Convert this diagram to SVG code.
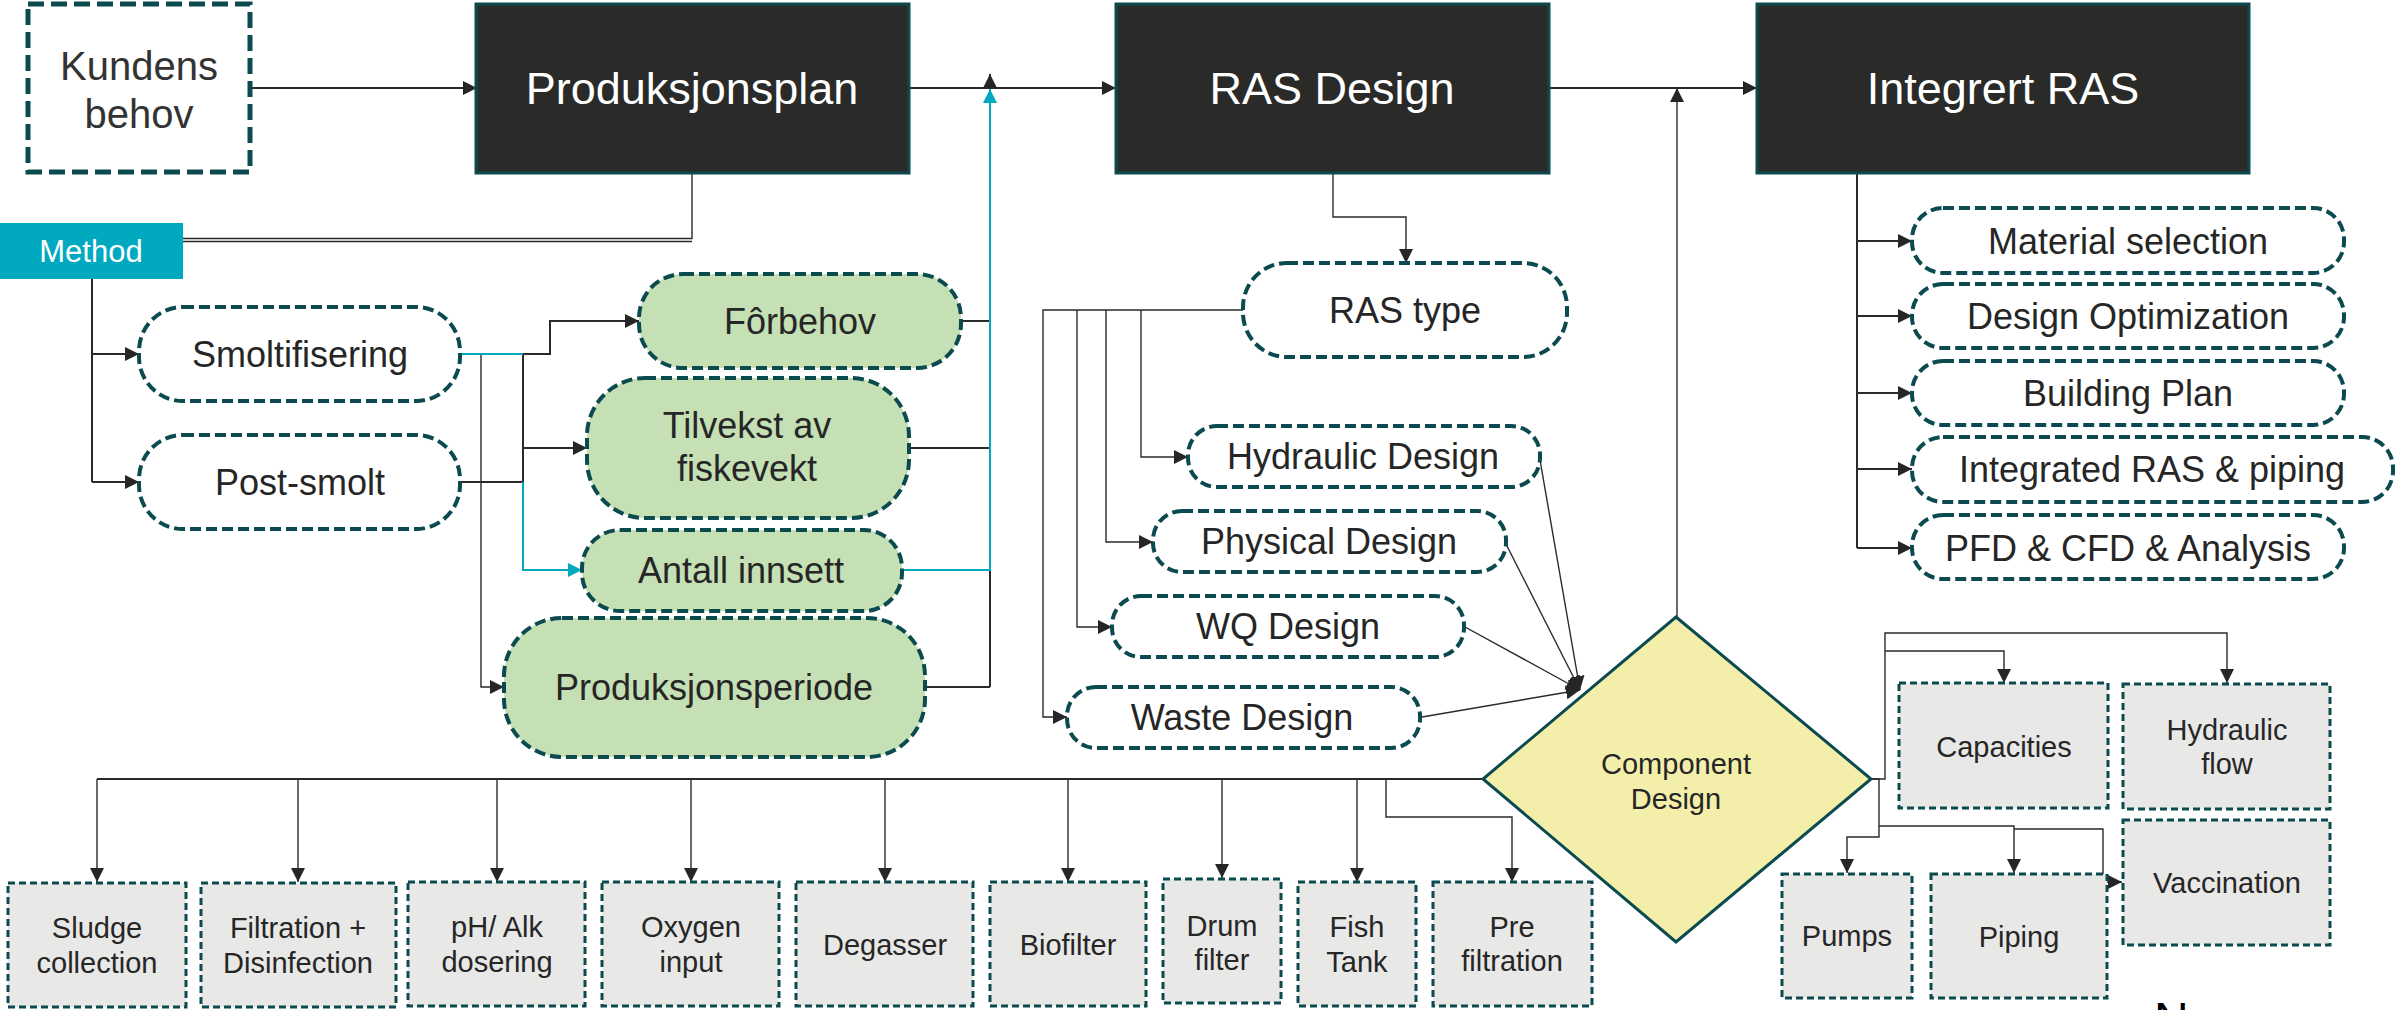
<svg xmlns="http://www.w3.org/2000/svg" width="2399" height="1010" viewBox="0 0 2399 1010">
  <defs>
    <marker id="arr" markerUnits="userSpaceOnUse" markerWidth="16" markerHeight="16" refX="14" refY="7" orient="auto">
      <path d="M0,0 L14,7 L0,14 z" fill="#262626"/>
    </marker>
    <marker id="arrT" markerUnits="userSpaceOnUse" markerWidth="16" markerHeight="16" refX="14" refY="7" orient="auto">
      <path d="M0,0 L14,7 L0,14 z" fill="#00a9bf"/>
    </marker>
    <style>
      text { font-family: "Liberation Sans", Arial, sans-serif; text-anchor: middle; fill: #262626; }
      .main rect { fill: #2a2a29; stroke: #0d4a50; stroke-width: 3; }
      .main text { fill: #ffffff; font-size: 45px; }
      .pill { fill: #ffffff; stroke: #0b4a4f; stroke-width: 4; stroke-dasharray: 11 5; }
      .green { fill: #c5e0b4; stroke: #0b4a4f; stroke-width: 4; stroke-dasharray: 11 5; }
      .comp { fill: #e8e8e6; stroke: #0b4a4f; stroke-width: 3; stroke-dasharray: 7 4; }
      .lbl { font-size: 36px; }
      .sm { font-size: 29px; }
      .con { fill: none; stroke: #2a2a2a; stroke-width: 2; }
      .thin { fill: none; stroke: #2a2a2a; stroke-width: 1.4; }
      .teal { fill: none; stroke: #00a9bf; stroke-width: 2; }
      .white { fill: #ffffff; }
      .soft { fill: #333333; }
    </style>
  </defs>

  <!-- connectors -->
  <g id="connectors">
    <line class="con" x1="250" y1="88" x2="477" y2="88" marker-end="url(#arr)"/>
    <line class="con" x1="909" y1="88" x2="1116" y2="88" marker-end="url(#arr)"/>
    <line class="con" x1="1549" y1="88" x2="1757" y2="88" marker-end="url(#arr)"/>
    <!-- plan to method -->
    <path class="thin" d="M692,173 V238.5 H183"/>
    <path class="thin" d="M692,241.5 H183"/>
    <!-- method branches -->
    <path class="con" d="M92,279 V482"/>
    <path class="con" d="M92,354 H139" marker-end="url(#arr)"/>
    <path class="con" d="M92,482 H139" marker-end="url(#arr)"/>
    <!-- production plan inputs -->
    <path class="con" d="M460,354 H550 V321 H639" marker-end="url(#arr)"/>
    <path class="thin" d="M481,354 V687 H504" marker-end="url(#arr)"/>
    <path class="con" d="M460,482 H523 V354"/>
    <path class="con" d="M523,448 H587" marker-end="url(#arr)"/>
    <path class="teal" d="M460,354 H523"/>
    <path class="teal" d="M523,482 V570 H582" stroke-width="1.6" marker-end="url(#arrT)"/>
    <!-- production plan outputs -->
    <path class="con" d="M961,321 H990"/>
    <path class="con" d="M909,448 H990"/>
    <path class="con" d="M925,687 H990"/>
    <path class="con" d="M990,687 V74" marker-end="url(#arr)"/>
    <path class="teal" d="M902,570 H990 V89" marker-end="url(#arrT)"/>
    <!-- RAS design to RAS type -->
    <path class="thin" d="M1333,173 V217 H1406 V263" marker-end="url(#arr)"/>
    <!-- RAS type branches -->
    <path class="thin" d="M1243,310 H1043 V717 H1067" marker-end="url(#arr)"/>
    <path class="thin" d="M1141,310 V457 H1188" marker-end="url(#arr)"/>
    <path class="thin" d="M1106,310 V542 H1153" marker-end="url(#arr)"/>
    <path class="thin" d="M1077,310 V627 H1112" marker-end="url(#arr)"/>
    <!-- designs into component design -->
    <line class="thin" x1="1540" y1="460" x2="1580" y2="690" marker-end="url(#arr)"/>
    <line class="thin" x1="1506" y1="544" x2="1580" y2="690" marker-end="url(#arr)"/>
    <line class="thin" x1="1465" y1="627" x2="1580" y2="690" marker-end="url(#arr)"/>
    <line class="thin" x1="1422" y1="717" x2="1580" y2="690" marker-end="url(#arr)"/>
    <!-- component design to integrated RAS -->
    <line class="thin" x1="1677" y1="617" x2="1677" y2="88" marker-end="url(#arr)"/>
    <!-- integrated RAS branches -->
    <path class="con" d="M1803,173 H1857 V548"/>
    <path class="con" d="M1857,241 H1912" marker-end="url(#arr)"/>
    <path class="con" d="M1857,316 H1912" marker-end="url(#arr)"/>
    <path class="con" d="M1857,393 H1912" marker-end="url(#arr)"/>
    <path class="con" d="M1857,469 H1912" marker-end="url(#arr)"/>
    <path class="con" d="M1857,548 H1912" marker-end="url(#arr)"/>
    <!-- component bus -->
    <path class="con" d="M1483,779 H97"/>
    <path class="thin" d="M97,779 V882" marker-end="url(#arr)"/>
    <path class="thin" d="M298,779 V882" marker-end="url(#arr)"/>
    <path class="thin" d="M497,779 V882" marker-end="url(#arr)"/>
    <path class="thin" d="M691,779 V882" marker-end="url(#arr)"/>
    <path class="thin" d="M885,779 V882" marker-end="url(#arr)"/>
    <path class="thin" d="M1068,779 V882" marker-end="url(#arr)"/>
    <path class="thin" d="M1222,779 V878" marker-end="url(#arr)"/>
    <path class="thin" d="M1357,779 V882" marker-end="url(#arr)"/>
    <path class="thin" d="M1386,779 V817 H1512 V882" marker-end="url(#arr)"/>
    <!-- right side component outputs -->
    <path class="thin" d="M1871,779 H1885 V633 H2227 V683" marker-end="url(#arr)"/>
    <path class="thin" d="M1885,651 H2004 V683" marker-end="url(#arr)"/>
    <path class="thin" d="M1871,779 H1879 V837 H1847 V873" marker-end="url(#arr)"/>
    <path class="thin" d="M1879,826 H2014 V873" marker-end="url(#arr)"/>
    <path class="thin" d="M2014,829 H2103 V882 H2122" marker-end="url(#arr)"/>
  </g>

  <!-- top row -->
  <g id="kundens-behov">
    <rect x="28" y="4" width="222" height="168" fill="#ffffff" stroke="#0b4a4f" stroke-width="5" stroke-dasharray="16 7"/>
    <text class="soft" x="139" y="80" font-size="40">Kundens</text>
    <text class="soft" x="139" y="128" font-size="40">behov</text>
  </g>
  <g id="produksjonsplan" class="main">
    <rect x="476" y="4" width="433" height="169"/>
    <text x="692" y="104">Produksjonsplan</text>
  </g>
  <g id="ras-design" class="main">
    <rect x="1116" y="4" width="433" height="169"/>
    <text x="1332" y="104">RAS Design</text>
  </g>
  <g id="integrert-ras" class="main">
    <rect x="1757" y="4" width="492" height="169"/>
    <text x="2003" y="104">Integrert RAS</text>
  </g>
  <g id="method">
    <rect x="0" y="223" width="183" height="56" fill="#00a9bf"/>
    <text class="white" x="91" y="262" font-size="31">Method</text>
  </g>

  <!-- production plan inputs -->
  <g id="smoltifisering">
    <rect class="pill" x="139" y="307" width="321" height="94" rx="44"/>
    <text class="lbl" x="300" y="367">Smoltifisering</text>
  </g>
  <g id="post-smolt">
    <rect class="pill" x="139" y="435" width="321" height="94" rx="44"/>
    <text class="lbl" x="300" y="495">Post-smolt</text>
  </g>
  <g id="forbehov">
    <rect class="green" x="639" y="274" width="322" height="94" rx="44"/>
    <text class="lbl" x="800" y="334">Fôrbehov</text>
  </g>
  <g id="tilvekst">
    <rect class="green" x="587" y="378" width="322" height="140" rx="58"/>
    <text class="lbl" x="747" y="438">Tilvekst av</text>
    <text class="lbl" x="747" y="481">fiskevekt</text>
  </g>
  <g id="antall-innsett">
    <rect class="green" x="582" y="530" width="320" height="81" rx="38"/>
    <text class="lbl" x="741" y="583">Antall innsett</text>
  </g>
  <g id="produksjonsperiode">
    <rect class="green" x="504" y="618" width="421" height="139" rx="58"/>
    <text class="lbl" x="714" y="700">Produksjonsperiode</text>
  </g>

  <!-- RAS design branch -->
  <g id="ras-type">
    <rect class="pill" x="1243" y="263" width="324" height="94" rx="44"/>
    <text class="lbl" x="1405" y="323">RAS type</text>
  </g>
  <g id="hydraulic-design">
    <rect class="pill" x="1188" y="426" width="352" height="61" rx="29"/>
    <text class="lbl" x="1363" y="469">Hydraulic Design</text>
  </g>
  <g id="physical-design">
    <rect class="pill" x="1153" y="511" width="353" height="61" rx="29"/>
    <text class="lbl" x="1329" y="554">Physical Design</text>
  </g>
  <g id="wq-design">
    <rect class="pill" x="1112" y="596" width="352" height="61" rx="29"/>
    <text class="lbl" x="1288" y="639">WQ Design</text>
  </g>
  <g id="waste-design">
    <rect class="pill" x="1067" y="687" width="353" height="61" rx="29"/>
    <text class="lbl" x="1242" y="730">Waste Design</text>
  </g>

  <!-- integrated RAS branch -->
  <g id="material-selection">
    <rect class="pill" x="1912" y="208" width="432" height="65" rx="31"/>
    <text class="lbl" x="2128" y="254">Material selection</text>
  </g>
  <g id="design-optimization">
    <rect class="pill" x="1912" y="284" width="432" height="64" rx="31"/>
    <text class="lbl" x="2128" y="329">Design Optimization</text>
  </g>
  <g id="building-plan">
    <rect class="pill" x="1912" y="361" width="432" height="64" rx="31"/>
    <text class="lbl" x="2128" y="406">Building Plan</text>
  </g>
  <g id="integrated-ras-piping">
    <rect class="pill" x="1912" y="437" width="481" height="65" rx="31"/>
    <text class="lbl" x="2152" y="482">Integrated RAS &amp; piping</text>
  </g>
  <g id="pfd-cfd-analysis">
    <rect class="pill" x="1912" y="515" width="432" height="64" rx="31"/>
    <text class="lbl" x="2128" y="561">PFD &amp; CFD &amp; Analysis</text>
  </g>

  <!-- component design -->
  <g id="component-design">
    <polygon points="1676,617 1871,779 1676,942 1483,779" fill="#f3efaa" stroke="#0b4a4f" stroke-width="3"/>
    <text x="1676" y="774" font-size="29">Component</text>
    <text x="1676" y="809" font-size="29">Design</text>
  </g>

  <!-- components -->
  <g id="sludge-collection">
    <rect class="comp" x="8" y="883" width="178" height="124"/>
    <text class="sm" x="97" y="938">Sludge</text>
    <text class="sm" x="97" y="973">collection</text>
  </g>
  <g id="filtration-disinfection">
    <rect class="comp" x="201" y="883" width="195" height="124"/>
    <text class="sm" x="298" y="938">Filtration +</text>
    <text class="sm" x="298" y="973">Disinfection</text>
  </g>
  <g id="ph-alk-dosering">
    <rect class="comp" x="408" y="882" width="177" height="124"/>
    <text class="sm" x="497" y="937">pH/ Alk</text>
    <text class="sm" x="497" y="972">dosering</text>
  </g>
  <g id="oxygen-input">
    <rect class="comp" x="602" y="882" width="177" height="124"/>
    <text class="sm" x="691" y="937">Oxygen</text>
    <text class="sm" x="691" y="972">input</text>
  </g>
  <g id="degasser">
    <rect class="comp" x="796" y="882" width="177" height="124"/>
    <text class="sm" x="885" y="955">Degasser</text>
  </g>
  <g id="biofilter">
    <rect class="comp" x="990" y="882" width="156" height="124"/>
    <text class="sm" x="1068" y="955">Biofilter</text>
  </g>
  <g id="drum-filter">
    <rect class="comp" x="1163" y="879" width="118" height="124"/>
    <text class="sm" x="1222" y="936">Drum</text>
    <text class="sm" x="1222" y="970">filter</text>
  </g>
  <g id="fish-tank">
    <rect class="comp" x="1298" y="882" width="118" height="124"/>
    <text class="sm" x="1357" y="937">Fish</text>
    <text class="sm" x="1357" y="972">Tank</text>
  </g>
  <g id="pre-filtration">
    <rect class="comp" x="1433" y="882" width="159" height="124"/>
    <text class="sm" x="1512" y="937">Pre</text>
    <text class="sm" x="1512" y="971">filtration</text>
  </g>
  <g id="capacities">
    <rect class="comp" x="1899" y="683" width="209" height="125"/>
    <text class="sm" x="2004" y="757">Capacities</text>
  </g>
  <g id="hydraulic-flow">
    <rect class="comp" x="2123" y="684" width="207" height="125"/>
    <text class="sm" x="2227" y="740">Hydraulic</text>
    <text class="sm" x="2227" y="774">flow</text>
  </g>
  <g id="vaccination">
    <rect class="comp" x="2123" y="820" width="207" height="125"/>
    <text class="sm" x="2227" y="893">Vaccination</text>
  </g>
  <g id="pumps">
    <rect class="comp" x="1782" y="874" width="130" height="124"/>
    <text class="sm" x="1847" y="946">Pumps</text>
  </g>
  <g id="piping">
    <rect class="comp" x="1931" y="874" width="176" height="124"/>
    <text class="sm" x="2019" y="947">Piping</text>
  </g>

  <!-- heading running off the lower edge -->
  <text x="2154" y="1036" font-size="48" style="fill:#000000;text-anchor:start">N</text>
</svg>
